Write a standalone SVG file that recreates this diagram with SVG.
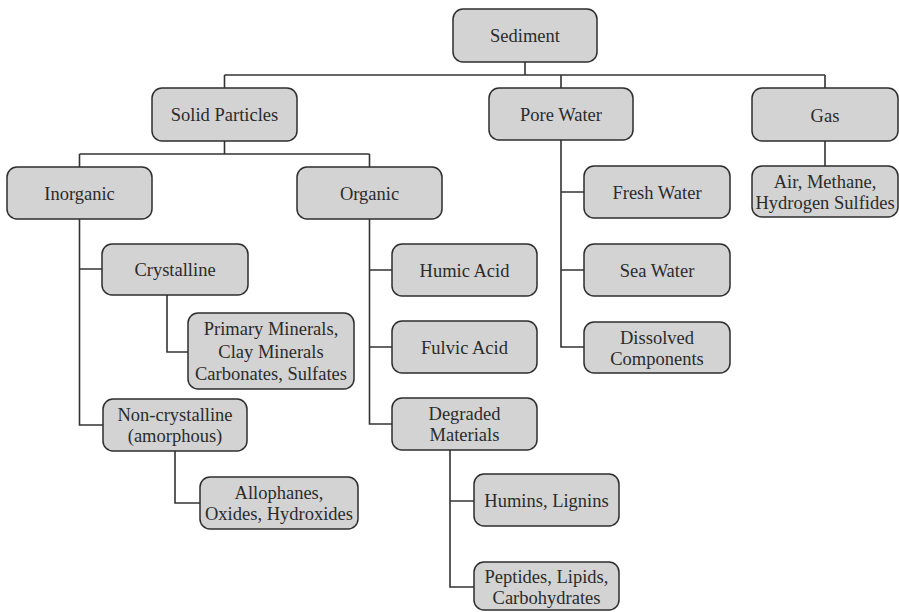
<svg xmlns="http://www.w3.org/2000/svg" width="899" height="612" viewBox="0 0 899 612">
  <style>
    .box { fill: #d3d3d3; stroke: #2e2e2e; stroke-width: 1.5; }
    .lbl { font-family: "Liberation Serif", "DejaVu Serif", serif; font-size: 18.5px; fill: #2b2b2b; text-anchor: middle; }
    .wire { fill: none; stroke: #333; stroke-width: 1.6; }
  </style>
  <rect width="899" height="612" fill="#ffffff"/>

  <!-- tree connectors -->
  <g id="connectors" class="wire">
    <path d="M525 62V75M224.5 75H825M224.5 75V88M561 75V88M825 75V88"/>
    <path d="M825 141V166"/>
    <path d="M224.5 141V154M79.5 154H369.5M79.5 154V167M369.5 154V167"/>
    <path d="M79.5 219V425H103M79.5 269H102"/>
    <path d="M167 295V352H188"/>
    <path d="M175 451V503H200"/>
    <path d="M369.5 219V424H392M369.5 270H392M369.5 347H392"/>
    <path d="M450 450V587H474M450 501H474"/>
    <path d="M561 140V347H584M561 192H584M561 270H584"/>
  </g>

  <g id="sediment">
    <rect class="box" x="453" y="9" width="144" height="53" rx="10"/>
    <text class="lbl" x="525" y="42">Sediment</text>
  </g>
  <g id="solid-particles">
    <rect class="box" x="152" y="88" width="145" height="53" rx="10"/>
    <text class="lbl" x="224.5" y="121">Solid Particles</text>
  </g>
  <g id="pore-water">
    <rect class="box" x="489" y="88" width="144" height="52" rx="10"/>
    <text class="lbl" x="561" y="120.5">Pore Water</text>
  </g>
  <g id="gas">
    <rect class="box" x="752" y="88" width="146" height="53" rx="10"/>
    <text class="lbl" x="825" y="121.5">Gas</text>
  </g>
  <g id="gas-components">
    <rect class="box" x="752" y="166" width="146" height="51" rx="10"/>
    <text class="lbl" x="825" y="188">Air, Methane,</text>
    <text class="lbl" x="825" y="209">Hydrogen Sulfides</text>
  </g>
  <g id="inorganic">
    <rect class="box" x="7" y="167" width="145" height="52" rx="10"/>
    <text class="lbl" x="79.5" y="199.5">Inorganic</text>
  </g>
  <g id="organic">
    <rect class="box" x="297" y="167" width="145" height="52" rx="10"/>
    <text class="lbl" x="369.5" y="199.5">Organic</text>
  </g>
  <g id="fresh-water">
    <rect class="box" x="584" y="166" width="146" height="52" rx="10"/>
    <text class="lbl" x="657" y="198.5">Fresh Water</text>
  </g>
  <g id="sea-water">
    <rect class="box" x="584" y="244" width="146" height="52" rx="10"/>
    <text class="lbl" x="657" y="276.5">Sea Water</text>
  </g>
  <g id="dissolved-components">
    <rect class="box" x="584" y="322" width="146" height="51" rx="10"/>
    <text class="lbl" x="657" y="344">Dissolved</text>
    <text class="lbl" x="657" y="365">Components</text>
  </g>
  <g id="crystalline">
    <rect class="box" x="102" y="244" width="146" height="51" rx="10"/>
    <text class="lbl" x="175" y="276">Crystalline</text>
  </g>
  <g id="minerals">
    <rect class="box" x="188" y="313" width="166" height="76" rx="10"/>
    <text class="lbl" x="271" y="335">Primary Minerals,</text>
    <text class="lbl" x="271" y="357.5">Clay Minerals</text>
    <text class="lbl" x="271" y="380">Carbonates, Sulfates</text>
  </g>
  <g id="non-crystalline">
    <rect class="box" x="103" y="399" width="144" height="52" rx="10"/>
    <text class="lbl" x="175" y="421">Non-crystalline</text>
    <text class="lbl" x="175" y="442">(amorphous)</text>
  </g>
  <g id="allophanes">
    <rect class="box" x="200" y="477" width="158" height="52" rx="10"/>
    <text class="lbl" x="279" y="499">Allophanes,</text>
    <text class="lbl" x="279" y="520">Oxides, Hydroxides</text>
  </g>
  <g id="humic-acid">
    <rect class="box" x="392" y="244" width="145" height="52" rx="10"/>
    <text class="lbl" x="464.5" y="276.5">Humic Acid</text>
  </g>
  <g id="fulvic-acid">
    <rect class="box" x="392" y="321" width="145" height="52" rx="10"/>
    <text class="lbl" x="464.5" y="353.5">Fulvic Acid</text>
  </g>
  <g id="degraded-materials">
    <rect class="box" x="392" y="398" width="145" height="52" rx="10"/>
    <text class="lbl" x="464.5" y="420">Degraded</text>
    <text class="lbl" x="464.5" y="441">Materials</text>
  </g>
  <g id="humins-lignins">
    <rect class="box" x="474" y="474" width="145" height="52" rx="10"/>
    <text class="lbl" x="546.5" y="506.5">Humins, Lignins</text>
  </g>
  <g id="peptides">
    <rect class="box" x="474" y="562" width="145" height="48" rx="10"/>
    <text class="lbl" x="546.5" y="583">Peptides, Lipids,</text>
    <text class="lbl" x="546.5" y="604">Carbohydrates</text>
  </g>
</svg>
